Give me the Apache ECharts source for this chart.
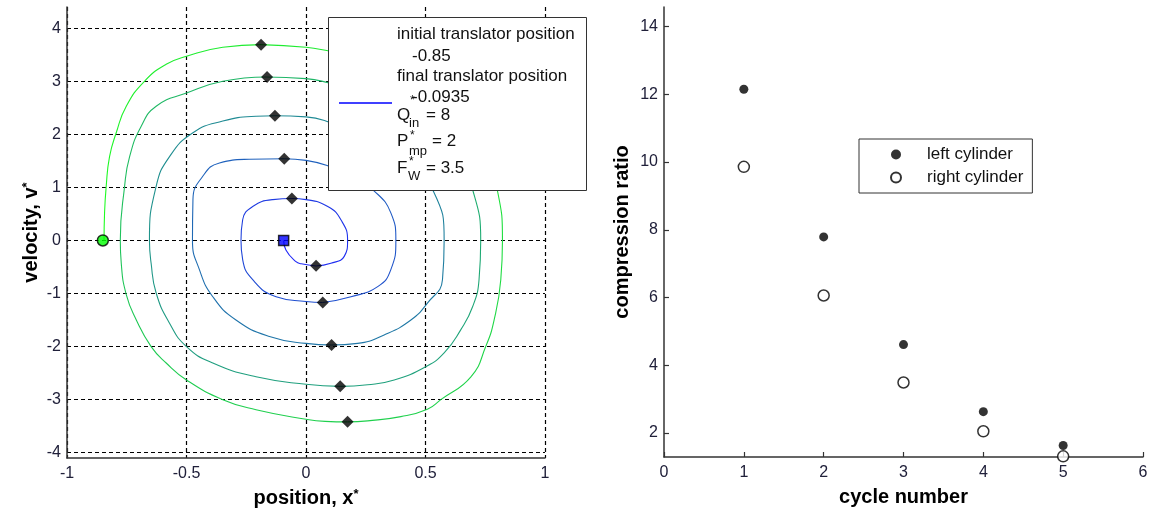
<!DOCTYPE html>
<html>
<head>
<meta charset="utf-8">
<script src="https://cdn.jsdelivr.net/npm/echarts@6/dist/echarts.min.js"></script>
<style>
  html, body { margin: 0; padding: 0; background: #fff; }
  #main { width: 1156px; height: 516px; }
</style>
</head>
<body>
<div id="main"></div>
<script>
// phase trajectory (position x*, velocity v*)
var trajectory = [
  [-0.845, 0.00], [-0.843, 0.50], [-0.836, 1.02], [-0.822, 1.58], [-0.794, 2.03], [-0.752, 2.53], [-0.676, 3.00],
  [-0.585, 3.32], [-0.500, 3.47], [-0.348, 3.64], [-0.188, 3.69], [0.000, 3.64], [0.097, 3.57],
  [0.300, 3.40], [0.500, 3.00], [0.650, 2.40], [0.750, 1.60],
  [0.800, 0.96], [0.822, 0.00], [0.815, -0.74], [0.787, -1.50], [0.752, -2.00], [0.690, -2.57], [0.564, -3.00],
  [0.508, -3.18], [0.397, -3.32], [0.258, -3.40], [0.174, -3.42], [0.080, -3.41], [0.000, -3.37], [-0.209, -3.19],
  [-0.348, -3.00], [-0.500, -2.63], [-0.585, -2.31], [-0.648, -2.00], [-0.710, -1.50], [-0.752, -1.02], [-0.773, -0.43],
  [-0.777, 0.00], [-0.759, 1.02], [-0.738, 1.58], [-0.690, 2.15], [-0.627, 2.53], [-0.500, 2.78], [-0.348, 3.00],
  [-0.167, 3.08], [0.000, 3.05], [0.097, 2.97],
  [0.300, 2.75], [0.500, 2.25], [0.630, 1.60],
  [0.697, 0.96], [0.731, 0.00], [0.724, -0.74], [0.697, -1.25], [0.648, -1.68], [0.578, -2.12], [0.501, -2.38],
  [0.369, -2.63], [0.258, -2.72], [0.143, -2.75], [0.000, -2.71], [-0.209, -2.57], [-0.390, -2.31], [-0.500, -2.00],
  [-0.571, -1.56], [-0.627, -0.99], [-0.648, -0.43], [-0.655, 0.00],
  [-0.627, 1.02], [-0.571, 1.58], [-0.473, 2.03], [-0.348, 2.25], [-0.209, 2.34], [-0.130, 2.35], [0.000, 2.33], [0.097, 2.23],
  [0.250, 1.95], [0.420, 1.50],
  [0.534, 0.92], [0.578, 0.00], [0.571, -0.74], [0.508, -1.18], [0.439, -1.50], [0.327, -1.78], [0.216, -1.94],
  [0.107, -1.97], [0.000, -1.94], [-0.153, -1.81], [-0.293, -1.50], [-0.390, -1.06], [-0.446, -0.55], [-0.475, 0.00],
  [-0.473, 0.77], [-0.432, 1.21], [-0.362, 1.46], [-0.237, 1.53], [-0.091, 1.54], [0.000, 1.51], [0.097, 1.40],
  [0.200, 1.20],
  [0.279, 0.96], [0.355, 0.52], [0.376, 0.00], [0.355, -0.55], [0.300, -0.87], [0.188, -1.06], [0.070, -1.17],
  [0.000, -1.15], [-0.125, -1.06], [-0.223, -0.74], [-0.265, -0.36], [-0.272, 0.00],
  [-0.265, 0.39], [-0.223, 0.64], [-0.139, 0.77], [-0.059, 0.79], [0.000, 0.77], [0.091, 0.64], [0.146, 0.39],
  [0.174, 0.00], [0.160, -0.30], [0.104, -0.43], [0.042, -0.48], [-0.020, -0.44], [-0.042, -0.40], [-0.084, -0.18],
  [-0.0935, 0.00]
];
// velocity extremes of each half cycle
var peakPoints = [
  [-0.188, 3.69], [-0.163, 3.08], [-0.130, 2.35], [-0.091, 1.54], [-0.059, 0.79],
  [0.042, -0.477], [0.070, -1.17], [0.107, -1.97], [0.143, -2.75], [0.174, -3.415]
];
var startPoint = [-0.85, 0];
var endPoint = [-0.0935, 0];

var posTicks = [-1, -0.5, 0, 0.5, 1];
var velTicks = [-4, -3, -2, -1, 0, 1, 2, 3, 4];

// compression ratio per cycle
var cycles = [1, 2, 3, 4, 5];
var leftCylinder = [12.15, 7.79, 4.61, 2.63, 1.63];
var rightCylinder = [9.86, 6.06, 3.49, 2.05, 1.31];
var ratioTicks = [2, 4, 6, 8, 10, 12, 14];

var FONT = '"Liberation Sans", Arial, sans-serif';
var LABEL_COLOR = '#20203a';

// split the trajectory at each velocity extreme (half cycles); colour runs green -> blue
function pathColor(f) {
  var w = 0.12;
  f = Math.pow(f, 0.8);
  var r = Math.round(255 * w);
  var g = Math.round(255 * (1 - f) * (1 - w) + 255 * w);
  var b = Math.round(255 * f * (1 - w) + 255 * w);
  return 'rgb(' + r + ',' + g + ',' + b + ')';
}
var halfCycles = [];
(function () {
  var cx = -0.05, cum = [0], total = 0;
  var prev = Math.atan2(trajectory[0][1] * 53, (trajectory[0][0] - cx) * 239);
  for (var i = 1; i < trajectory.length; i++) {
    var a = Math.atan2(trajectory[i][1] * 53, (trajectory[i][0] - cx) * 239);
    var d = a - prev;
    while (d > Math.PI) d -= 2 * Math.PI;
    while (d < -Math.PI) d += 2 * Math.PI;
    total += Math.abs(d);
    cum.push(total);
    prev = a;
  }
  var cuts = [0];
  for (var k = 1; k < trajectory.length - 1; k++) {
    var v0 = trajectory[k - 1][1], v1 = trajectory[k][1], v2 = trajectory[k + 1][1];
    if ((v1 > v0 && v1 >= v2) || (v1 < v0 && v1 <= v2)) cuts.push(k);
  }
  cuts.push(trajectory.length - 1);
  for (var s = 0; s < cuts.length - 1; s++) {
    var i0 = cuts[s], i1 = cuts[s + 1];
    var c0 = pathColor(cum[i0] / total), c1 = pathColor(cum[i1] / total);
    var goingDown = trajectory[i1][1] < trajectory[i0][1];
    halfCycles.push({
      data: trajectory.slice(i0, i1 + 1),
      color: {
        type: 'linear', x: 0, y: 0, x2: 0, y2: 1,
        colorStops: goingDown
          ? [{ offset: 0, color: c0 }, { offset: 1, color: c1 }]
          : [{ offset: 0, color: c1 }, { offset: 1, color: c0 }]
      }
    });
  }
})();

var myChart = echarts.init(document.getElementById('main'));

var tickLabel = { fontSize: 16, fontFamily: FONT, color: LABEL_COLOR };
var axisName = {
  fontSize: 20, fontWeight: 'bold', fontFamily: FONT, color: '#000',
  rich: { s: { fontSize: 13, fontWeight: 'bold', fontFamily: FONT, color: '#000', verticalAlign: 'top', lineHeight: 10 } }
};
var dashed = { show: true, lineStyle: { color: '#000', type: [4, 3], width: 1.2 } };
var axisLn = { show: true, onZero: false, lineStyle: { color: '#333', width: 1.5 } };

function gText(x, y, text, size) {
  return {
    type: 'text', x: x, y: y, z: 101,
    style: { text: text, font: (size || 17) + 'px ' + FONT, fill: '#111', verticalAlign: 'middle' }
  };
}

var series = halfCycles.map(function (h) {
  return {
    type: 'line', xAxisIndex: 0, yAxisIndex: 0,
    data: h.data, smooth: 0.5, showSymbol: false, silent: true,
    lineStyle: { width: 1.1, color: h.color },
    z: 2
  };
});
series.push({
  type: 'scatter', xAxisIndex: 0, yAxisIndex: 0,
  symbol: 'diamond', symbolSize: 12,
  itemStyle: { color: '#000' },
  data: peakPoints, z: 3
}, {
  type: 'scatter', xAxisIndex: 0, yAxisIndex: 0,
  symbol: 'circle', symbolSize: 11,
  itemStyle: { color: '#00ff00', borderColor: '#000', borderWidth: 1.5 },
  data: [startPoint], z: 3
}, {
  type: 'scatter', xAxisIndex: 0, yAxisIndex: 0,
  symbol: 'rect', symbolSize: 10,
  itemStyle: { color: '#0000ff', borderColor: '#000', borderWidth: 1.5 },
  data: [endPoint], z: 3
}, {
  name: 'left cylinder',
  type: 'scatter', xAxisIndex: 1, yAxisIndex: 1,
  symbol: 'circle', symbolSize: 9,
  itemStyle: { color: '#000' },
  data: cycles.map(function (c, i) { return [c, leftCylinder[i]]; })
}, {
  name: 'right cylinder',
  type: 'scatter', xAxisIndex: 1, yAxisIndex: 1,
  symbol: 'circle', symbolSize: 11,
  itemStyle: { color: '#fff', borderColor: '#000', borderWidth: 1.5 },
  data: cycles.map(function (c, i) { return [c, rightCylinder[i]]; })
});

option = {
  animation: false,
  backgroundColor: '#fff',
  grid: [
    { left: 67, right: 611, top: 7, bottom: 58 },
    { left: 664, right: 13, top: 7, bottom: 59 }
  ],
  xAxis: [{
    gridIndex: 0, type: 'value', min: -1, max: 1, interval: 0.5,
    name: 'position, x{s|*}', nameLocation: 'middle', nameGap: 30, nameTextStyle: axisName,
    axisLine: axisLn, axisTick: { show: false },
    axisLabel: Object.assign({ margin: 8, customValues: posTicks }, tickLabel),
    splitLine: dashed
  }, {
    gridIndex: 1, type: 'value', min: 0, max: 6, interval: 1,
    name: 'cycle number', nameLocation: 'middle', nameGap: 30, nameTextStyle: axisName,
    axisLine: axisLn,
    axisTick: { show: true, inside: true, length: 5, lineStyle: { color: '#333', width: 1.2 } },
    axisLabel: Object.assign({ margin: 8 }, tickLabel),
    splitLine: { show: false }
  }],
  yAxis: [{
    gridIndex: 0, type: 'value', min: -4.1, max: 4.4,
    name: 'velocity, v{s|*}', nameLocation: 'middle', nameRotate: 90, nameGap: 26, nameTextStyle: axisName,
    axisLine: axisLn,
    axisTick: { show: false, customValues: velTicks },
    axisLabel: Object.assign({ margin: 6, customValues: velTicks }, tickLabel),
    splitLine: dashed
  }, {
    gridIndex: 1, type: 'value', min: 1.29, max: 14.58,
    name: 'compression ratio', nameLocation: 'middle', nameRotate: 90, nameGap: 32, nameTextStyle: axisName,
    axisLine: axisLn,
    axisTick: { show: true, inside: true, length: 5, customValues: ratioTicks, lineStyle: { color: '#333', width: 1.2 } },
    axisLabel: Object.assign({ margin: 6, customValues: ratioTicks }, tickLabel),
    splitLine: { show: false }
  }],
  legend: {
    data: ['left cylinder', 'right cylinder'],
    orient: 'vertical', left: 859, top: 139,
    padding: [7, 9, 7, 31],
    itemWidth: 52, itemHeight: 10, itemGap: 6,
    backgroundColor: '#fff', borderColor: '#333', borderWidth: 1,
    textStyle: { fontSize: 17, fontFamily: FONT, color: '#111' }
  },
  graphic: [
    { type: 'rect', z: 100, shape: { x: 328.5, y: 17.5, width: 258, height: 173 },
      style: { fill: '#fff', stroke: '#333', lineWidth: 1 } },
    { type: 'line', z: 101, shape: { x1: 339, y1: 103, x2: 392, y2: 103 },
      style: { stroke: '#0000ff', lineWidth: 1.3 } },
    gText(397, 34.5, 'initial translator position'),
    gText(412, 56, '-0.85'),
    gText(397, 76.5, 'final translator position'),
    gText(412, 97.5, '-0.0935'),
    gText(397, 115.5, 'Q'), gText(410, 101, '*', 12), gText(409, 123, 'in', 13), gText(426, 115.5, '= 8'),
    gText(397, 141, 'P'), gText(410, 136, '*', 12), gText(409, 151, 'mp', 13), gText(432, 141, '= 2'),
    gText(397, 168, 'F'), gText(409, 162, '*', 12), gText(408, 176, 'W', 13), gText(426, 168, '= 3.5')
  ],
  series: series
};

myChart.setOption(option);
</script>
</body>
</html>
